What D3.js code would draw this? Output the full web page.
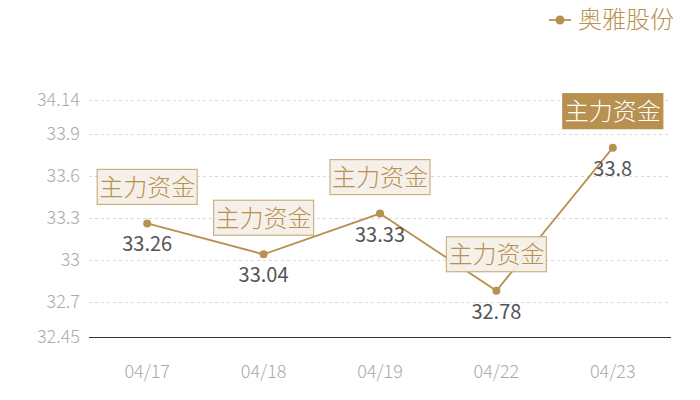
<!DOCTYPE html>
<html><head><meta charset="utf-8">
<script src="https://cdn.jsdelivr.net/npm/d3@7"></script>
<style>body{margin:0;background:#fff;} svg{display:block;font-family:"Noto Sans CJK SC","Noto Sans",sans-serif;}</style>
</head><body>
<svg id="c" width="700" height="400"></svg>
<script>
const categories = ["04/17","04/18","04/19","04/22","04/23"];
const values = [33.26, 33.04, 33.33, 32.78, 33.8];
const yTicks = [32.45, 32.7, 33, 33.3, 33.6, 33.9, 34.14];
const seriesName = "奥雅股份";
const tagText = "主力资金";
const highlightIndex = 4;

const gold = "#b8904f";
const svg = d3.select("#c");
const x = d3.scaleBand().domain(categories).range([89, 671]);
const y = d3.scaleLinear().domain([32.45, 34.14]).range([337, 100]);

// grid
svg.append("g").selectAll("line").data(yTicks.filter(t => t !== 32.45)).join("line")
  .attr("x1", 89).attr("x2", 671)
  .attr("y1", d => Math.round(y(d)) + 0.5).attr("y2", d => Math.round(y(d)) + 0.5)
  .attr("stroke", "#d9d9d9").attr("stroke-dasharray", "3,3").attr("stroke-width", 1);

// y labels
svg.append("g").selectAll("text").data(yTicks).join("text")
  .attr("x", 80).attr("y", d => y(d)).attr("dy", "0.35em")
  .attr("text-anchor", "end").attr("font-size", 18).attr("font-weight", 300).attr("fill", "#aaaaaa")
  .text(d => d);

// x axis line
svg.append("line").attr("x1", 89).attr("x2", 671).attr("y1", Math.round(y(32.45)) + 0.5).attr("y2", Math.round(y(32.45)) + 0.5)
  .attr("stroke", "#333").attr("stroke-width", 1);

svg.append("g").selectAll("text").data(categories).join("text")
  .attr("x", d => x(d) + x.bandwidth() / 2).attr("y", 372).attr("dy", "0.35em")
  .attr("text-anchor", "middle").attr("font-size", 18).attr("font-weight", 300).attr("fill", "#aaaaaa")
  .text(d => d);

const pts = categories.map((c, i) => ({c, v: values[i], i}));
const cx = d => x(d.c) + x.bandwidth() / 2;

// line
svg.append("path").datum(pts)
  .attr("d", d3.line().x(cx).y(d => y(d.v)))
  .attr("fill", "none").attr("stroke", gold).attr("stroke-width", 1.8);

svg.append("g").selectAll("circle").data(pts).join("circle")
  .attr("cx", cx).attr("cy", d => y(d.v)).attr("r", 4).attr("fill", gold);

// value labels
svg.append("g").selectAll("text").data(pts).join("text")
  .attr("x", cx).attr("y", d => y(d.v) + 21).attr("dy", "0.35em")
  .attr("text-anchor", "middle").attr("font-size", 20).attr("fill", "#555555")
  .text(d => d.v);

// tags
const tg = svg.append("g").selectAll("g").data(pts).join("g")
  .attr("transform", d => `translate(${cx(d)},${y(d.v) - 36})`);
tg.append("rect").attr("x", -50).attr("y", -18).attr("width", 100).attr("height", 35)
  .attr("fill", d => d.i === highlightIndex ? gold : "rgba(244,239,232,0.95)")
  .attr("stroke", d => d.i === highlightIndex ? gold : "#cdb080").attr("stroke-width", 1.2);
tg.append("text").attr("x", 0).attr("y", 0).attr("dy", "0.35em")
  .attr("text-anchor", "middle").attr("font-size", 24).attr("font-weight", 300)
  .attr("fill", d => d.i === highlightIndex ? "#ffffff" : gold)
  .text(tagText);

// legend
const lg = svg.append("g").attr("transform", "translate(560,20)");
lg.append("line").attr("x1", -11).attr("x2", 11).attr("stroke", gold).attr("stroke-width", 1.8);
lg.append("circle").attr("r", 4.5).attr("fill", gold);
lg.append("text").attr("x", 18).attr("dy", "0.35em").attr("font-size", 24).attr("font-weight", 300).attr("fill", gold).text(seriesName);
</script>
</body></html>
